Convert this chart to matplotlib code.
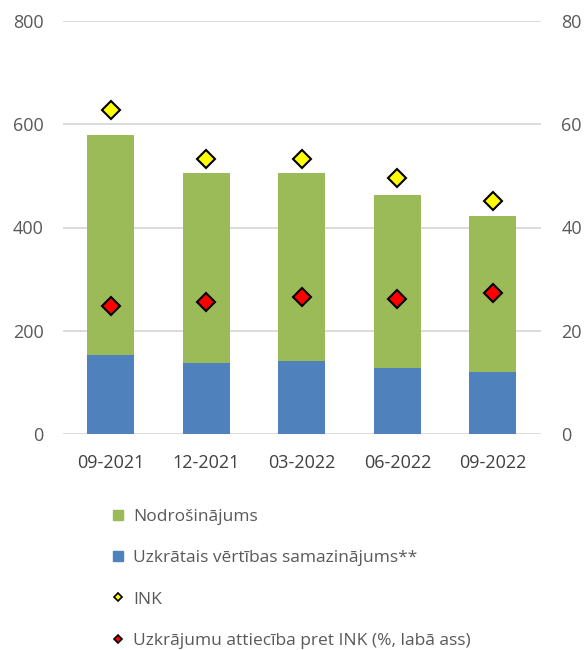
import matplotlib.pyplot as plt
from matplotlib.lines import Line2D

plt.rcParams['font.family'] = ['Open Sans', 'DejaVu Sans']

periods = ['09-2021', '12-2021', '03-2022', '06-2022', '09-2022']
uzkratais = [153, 137, 141, 129, 120]
nodrosinajums = [425, 368, 364, 334, 302]
ink = [628, 533, 533, 495, 451]
attieciba = [24.8, 25.6, 26.6, 26.1, 27.3]

green = '#9bbb59'
blue = '#4f81bd'
grid_c = '#d9d9d9'
txt_c = '#595959'

fig = plt.figure(figsize=(5.87, 6.5), dpi=100)
ax = fig.add_axes([0.1073, 0.3318, 0.8137, 0.6364])
ax2 = ax.twinx()

x = range(len(periods))
ax.bar(x, uzkratais, width=0.49, color=blue, zorder=2)
ax.bar(x, nodrosinajums, width=0.49, bottom=uzkratais, color=green, zorder=2)
ax.plot(x, ink, 'D', ms=9.5, mfc='#ffff00', mec='black', mew=1.5, zorder=3)
ax2.plot(x, attieciba, 'D', ms=9.5, mfc='#ff0000', mec='black', mew=1.5, zorder=3)

ax.set_ylim(0, 800)
ax2.set_ylim(0, 80)
ax.set_xlim(-0.5, 4.5)
ax.set_yticks([0, 200, 400, 600, 800])
ax2.set_yticks([0, 20, 40, 60, 80])
ax.set_xticks(list(x))
ax.set_xticklabels(periods)
ax.yaxis.grid(True, color=grid_c, lw=1.3, zorder=0)
ax.set_axisbelow(True)

for a in (ax, ax2):
    for s in a.spines.values():
        s.set_visible(False)
    a.tick_params(length=0, labelsize=13, colors=txt_c)
ax.tick_params(axis='y', pad=14)
ax2.tick_params(axis='y', pad=15)
ax.tick_params(axis='x', pad=14, labelcolor='#404040')

handles = [
    Line2D([], [], ls='none', marker='s', ms=6.5, mfc=green, mec=green),
    Line2D([], [], ls='none', marker='s', ms=6.5, mfc=blue, mec=blue),
    Line2D([], [], ls='none', marker='D', ms=4.5, mfc='#ffff00', mec='black', mew=1.2),
    Line2D([], [], ls='none', marker='D', ms=4.5, mfc='#ff0000', mec='black', mew=1.2),
]
labels = ['Nodrošinājums', 'Uzkrātais vērtības samazinājums**', 'INK',
          'Uzkrājumu attiecība pret INK (%, labā ass)']
fig.legend(handles, labels, loc='upper left', bbox_to_anchor=(0.178, 0.228),
           frameon=False, fontsize=12.5, labelcolor=txt_c, handlelength=0.8,
           handletextpad=0.45, labelspacing=1.45, borderaxespad=0)

fig.savefig('out.png', dpi=100)
